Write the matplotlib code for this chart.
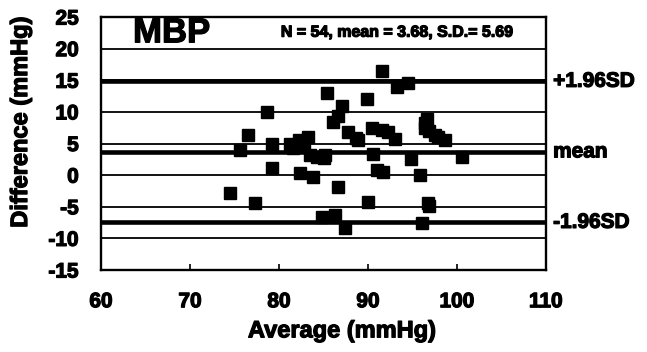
import matplotlib
matplotlib.use("Agg")
import matplotlib.pyplot as plt
import matplotlib.patheffects as pe

# Bland-Altman data: mean of the two methods vs. their difference (mmHg)
avg_mmhg = [
    74.5, 75.6, 76.5, 77.3, 78.7, 79.2, 79.2, 81.2, 81.6, 82.2,
    82.4, 83.3, 83.5, 83.8, 84.3, 84.8, 85.2, 85.4, 86.1, 86.6,
    86.3, 86.6, 87.1, 87.4, 87.8, 88.9, 89.9, 90.0, 90.4, 90.6,
    91.0, 91.6, 91.6, 91.7, 93.0, 93.3, 94.5, 94.8, 95.8, 96.4,
    96.4, 96.1, 96.7, 96.9, 97.5, 97.9, 98.7, 100.6, 96.6, 92.3,
    82.8, 96.9, 85.0, 88.6,
]
diff_mmhg = [
    -2.8, 4.0, 6.3, -4.4, 10.0, 5.0, 1.2, 5.0, 4.3, 5.5,
    0.4, 6.0, 3.2, -0.3, 2.8, -6.6, 3.2, 13.0, 8.4, 9.3,
    -6.3, -1.8, 11.0, -8.4, 6.8, 5.5, 12.1, -4.3, 7.5, 3.3,
    0.8, 16.4, 7.2, 0.5, 5.7, 13.9, 14.6, 2.6, 0.0, 8.3,
    7.5, -7.5, -4.4, -4.9, 6.4, 6.0, 5.6, 2.8, 8.8, 6.8,
    5.0, 7.0, 2.7, 5.9,
]

n_obs = 54
mean_diff = 3.68
sd_diff = 5.69
upper_loa = mean_diff + 1.96 * sd_diff
lower_loa = mean_diff - 1.96 * sd_diff

x_ticks = [60, 70, 80, 90, 100, 110]
y_ticks = [-15, -10, -5, 0, 5, 10, 15, 20, 25]

plt.rcParams["axes.unicode_minus"] = False
fam = ["Liberation Sans", "DejaVu Sans"]
heavy = [pe.withStroke(linewidth=0.9, foreground="black")]

fig = plt.figure(figsize=(6.47, 3.52), dpi=100)
ax = fig.add_axes([101 / 647, 1 - 270 / 352, 445 / 647, 253 / 352])

ax.set_xlim(60, 110)
ax.set_ylim(-15, 25)

# horizontal grid every 5 mmHg
for y in y_ticks[1:-1]:
    ax.axhline(y, color="black", lw=1.3, zorder=1)

# mean and limits of agreement
for y in (upper_loa, mean_diff, lower_loa):
    ax.axhline(y, color="black", lw=3.3, zorder=2)

ax.plot(avg_mmhg, diff_mmhg, "s", color="black", ms=8, zorder=3)

for side in ax.spines.values():
    side.set_linewidth(1.7)

ax.set_xticks(x_ticks)
ax.set_yticks(y_ticks)
ax.tick_params(axis="x", direction="in", length=4, width=1.2, pad=16)
ax.tick_params(axis="y", length=0, pad=16)
for lab in ax.get_xticklabels() + ax.get_yticklabels():
    lab.set_family(fam)
    lab.set_fontweight("bold")
    lab.set_fontsize(15)
    lab.set_path_effects(heavy)

ax.set_xlabel("Average (mmHg)", family=fam, fontweight="bold", fontsize=17,
              path_effects=heavy)
ax.set_ylabel("Difference (mmHg)", family=fam, fontweight="bold", fontsize=17,
              path_effects=heavy)
ax.xaxis.set_label_coords(0.542, -0.195)
ax.yaxis.set_label_coords(-0.155, 0.585)

ax.text(63.6, 22.5, "MBP", family=fam, fontweight="bold", fontsize=25,
        ha="left", va="center", path_effects=heavy)
ax.text(0.93, 22.6, "N = %d, mean = %.2f, S.D.= %.2f" % (n_obs, mean_diff, sd_diff),
        transform=ax.get_yaxis_transform(), family=fam, fontweight="bold",
        fontsize=11.5, ha="right", va="center", path_effects=heavy)

for y, txt in ((upper_loa, "+1.96SD"), (mean_diff, "mean"), (lower_loa, "-1.96SD")):
    ax.text(1.016, y, txt, transform=ax.get_yaxis_transform(), family=fam,
            fontweight="bold", fontsize=15, ha="left", va="center", clip_on=False,
            path_effects=heavy)

fig.savefig("out.png", dpi=100)
